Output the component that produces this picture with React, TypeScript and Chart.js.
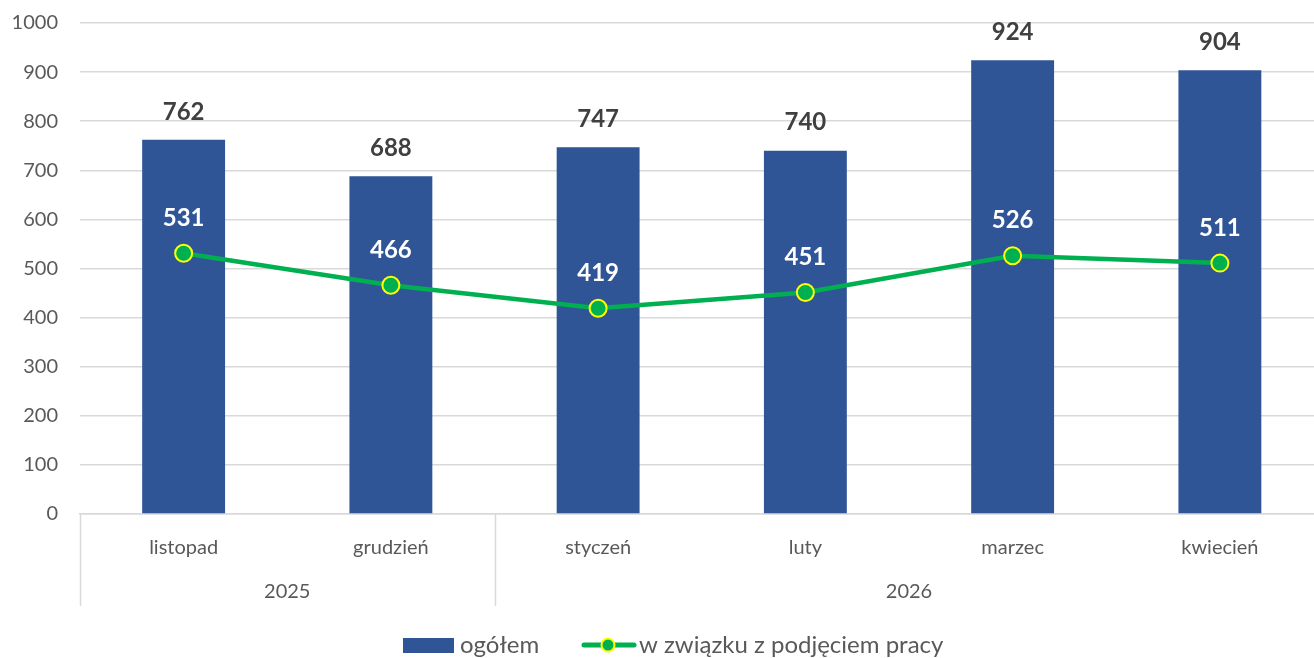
import React, { useEffect, useRef } from "react";
import { Chart, registerables } from "chart.js";

Chart.register(...registerables);

const months = ["listopad", "grudzień", "styczeń", "luty", "marzec", "kwiecień"];
const years = ["2025", "2026"];
const yearSpans = [2, 4];
const totalValues = [762, 688, 747, 740, 924, 904];
const jobValues = [531, 466, 419, 451, 526, 511];
const seriesNames = ["ogółem", "w związku z podjęciem pracy"];

const FONT = "Lato, 'Open Sans', sans-serif";
const BLUE = "#2F5597";
const GREEN = "#00B050";
const YELLOW = "#FFFF00";
const GRID = "#D9D9D9";
const TEXT = "#595959";

const overlayPlugin = {
  id: "overlay",
  afterDatasetsDraw(chart: any) {
    const ctx = chart.ctx;
    ctx.save();
    ctx.textAlign = "center";
    ctx.textBaseline = "middle";
    const barMeta = chart.getDatasetMeta(0);
    ctx.font = `bold 24px ${FONT}`;
    ctx.fillStyle = "#404040";
    barMeta.data.forEach((el: any, i: number) => {
      ctx.fillText(String(totalValues[i]), el.x, el.y - 28);
    });
    const lineMeta = chart.getDatasetMeta(1);
    ctx.fillStyle = "#FFFFFF";
    lineMeta.data.forEach((el: any, i: number) => {
      ctx.fillText(String(jobValues[i]), el.x, el.y - 35);
    });
    ctx.restore();
  },
  afterDraw(chart: any) {
    const ctx = chart.ctx;
    const area = chart.chartArea;
    const xs = chart.scales.x;
    ctx.save();
    const bottom = area.bottom + 92;
    let idx = 0;
    const bounds: number[] = [area.left];
    yearSpans.forEach((span) => {
      idx += span;
      if (idx < months.length) {
        bounds.push((xs.getPixelForValue(idx - 1) + xs.getPixelForValue(idx)) / 2);
      } else {
        bounds.push(area.right);
      }
    });
    ctx.strokeStyle = GRID;
    ctx.lineWidth = 1.5;
    for (let i = 0; i < bounds.length - 1; i++) {
      ctx.beginPath();
      ctx.moveTo(Math.round(bounds[i]) + 0.5, area.bottom);
      ctx.lineTo(Math.round(bounds[i]) + 0.5, bottom);
      ctx.stroke();
    }
    ctx.fillStyle = TEXT;
    ctx.font = `20px ${FONT}`;
    ctx.textAlign = "center";
    ctx.textBaseline = "middle";
    years.forEach((y, i) => {
      ctx.fillText(y, (bounds[i] + bounds[i + 1]) / 2, area.bottom + 78);
    });
    // legend (positioned relative to the plot bottom)
    const ly = area.bottom + 131;
    ctx.fillStyle = BLUE;
    ctx.fillRect(403, ly - 7, 51, 15);
    ctx.font = `24px ${FONT}`;
    ctx.fillStyle = TEXT;
    ctx.textAlign = "left";
    ctx.fillText(seriesNames[0], 460, ly);
    ctx.strokeStyle = GREEN;
    ctx.lineWidth = 5;
    ctx.lineCap = "round";
    ctx.beginPath();
    ctx.moveTo(584, ly);
    ctx.lineTo(634, ly);
    ctx.stroke();
    ctx.beginPath();
    ctx.arc(608, ly, 6.5, 0, Math.PI * 2);
    ctx.fillStyle = GREEN;
    ctx.fill();
    ctx.strokeStyle = YELLOW;
    ctx.lineWidth = 2;
    ctx.stroke();
    ctx.fillStyle = TEXT;
    ctx.fillText(seriesNames[1], 639, ly);
    ctx.restore();
  },
};

export default function App() {
  const ref = useRef<HTMLCanvasElement | null>(null);
  useEffect(() => {
    if (!ref.current) return;
    const chart = new Chart(ref.current, {
      type: "bar",
      data: {
        labels: months,
        datasets: [
          {
            type: "bar",
            label: seriesNames[0],
            data: totalValues,
            backgroundColor: BLUE,
            barPercentage: 0.5,
            categoryPercentage: 0.8,
            order: 2,
          },
          {
            type: "line",
            label: seriesNames[1],
            data: jobValues,
            borderColor: GREEN,
            borderWidth: 4.5,
            pointBackgroundColor: GREEN,
            pointBorderColor: YELLOW,
            pointBorderWidth: 2,
            pointRadius: 8.5,
            tension: 0,
            order: 1,
          } as any,
        ],
      },
      options: {
        animation: false,
        responsive: false,
        maintainAspectRatio: false,
        layout: { padding: 0 },
        plugins: { legend: { display: false }, tooltip: { enabled: false } },
        scales: {
          x: {
            grid: { display: false, drawTicks: false },
            border: { display: true, color: GRID, width: 1.5 },
            ticks: { color: TEXT, font: { family: FONT, size: 20 }, padding: 22 },
            afterFit: (s: any) => {
              s.height = 144;
            },
          },
          y: {
            min: 0,
            max: 1000,
            ticks: {
              stepSize: 100,
              color: TEXT,
              font: { family: FONT, size: 20 },
              padding: 22,
              callback: (v: any) => String(v),
            },
            grid: { color: GRID, lineWidth: 1.5, drawTicks: false },
            border: { display: false },
            afterFit: (s: any) => {
              s.width = 80;
            },
          },
        },
      },
      plugins: [overlayPlugin],
    });
    return () => chart.destroy();
  }, []);
  return (
    <div style={{ position: "fixed", left: 0, top: 0, width: 1314, height: 658, overflow: "hidden", background: "#fff" }}>
      <canvas
        ref={ref}
        width={1334}
        height={669}
        style={{ display: "block", width: 1334, height: 669, marginTop: -11 }}
      />
    </div>
  );
}
